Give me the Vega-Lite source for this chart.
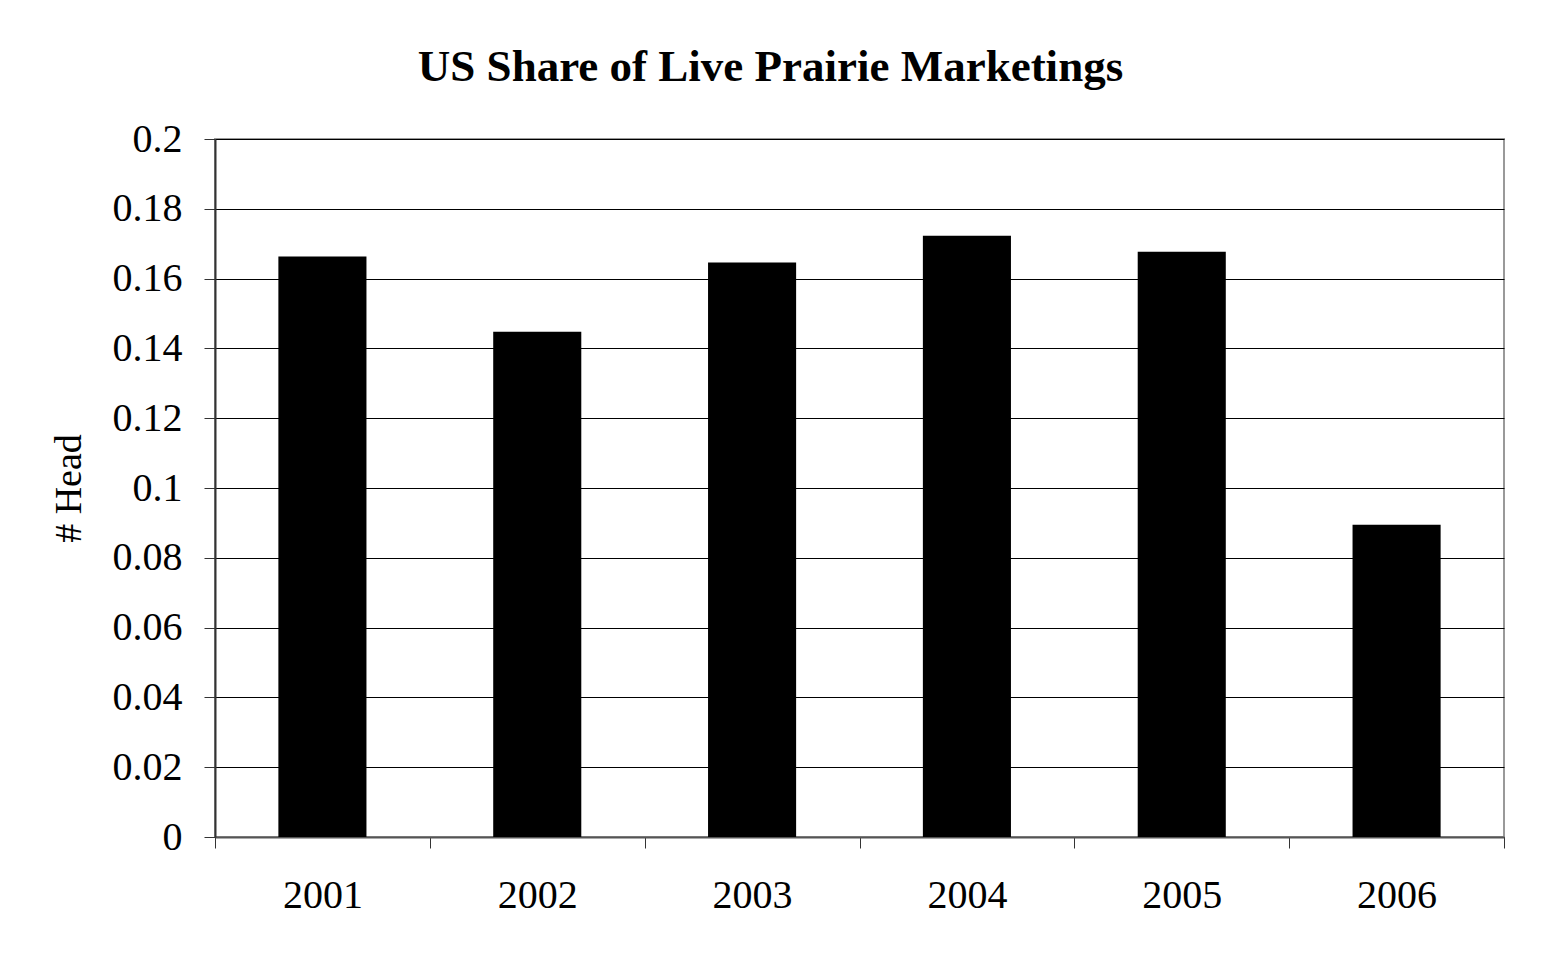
{
  "$schema": "https://vega.github.io/schema/vega-lite/v6.json",
  "width": 1289,
  "height": 698,
  "autosize": "none",
  "padding": {"left": 215, "top": 139, "right": 37, "bottom": 118},
  "background": "white",
  "title": {
    "text": "US Share of Live Prairie Marketings",
    "font": "Liberation Serif",
    "fontSize": 45,
    "fontWeight": "bold",
    "color": "black",
    "anchor": "middle",
    "dx": -89,
    "baseline": "alphabetic",
    "offset": -7
  },
  "data": {
    "values": [
      {"year": "2001", "share": 0.1663},
      {"year": "2002", "share": 0.1448},
      {"year": "2003", "share": 0.1646},
      {"year": "2004", "share": 0.1723},
      {"year": "2005", "share": 0.1677},
      {"year": "2006", "share": 0.0895}
    ]
  },
  "mark": {"type": "bar", "color": "black", "width": {"band": 0.41}},
  "encoding": {
    "x": {
      "field": "year",
      "type": "ordinal",
      "scale": {"paddingInner": 0, "paddingOuter": 0},
      "axis": {
        "title": null,
        "labelAngle": 0,
        "labelFont": "Liberation Serif",
        "labelFontSize": 40,
        "labelColor": "black",
        "labelPadding": 27,
        "tickBand": "extent",
        "tickSize": 11,
        "tickColor": "#333",
        "domainColor": "#555",
        "domainWidth": 2,
        "grid": false
      }
    },
    "y": {
      "field": "share",
      "type": "quantitative",
      "scale": {"domain": [0, 0.2], "nice": false},
      "axis": {
        "title": "# Head",
        "titleFont": "Liberation Serif",
        "titleFontSize": 38,
        "titleFontWeight": "normal",
        "titleColor": "black",
        "titlePadding": 24,
        "values": [0, 0.02, 0.04, 0.06, 0.08, 0.1, 0.12, 0.14, 0.16, 0.18, 0.2],
        "format": "~g",
        "labelFont": "Liberation Serif",
        "labelFontSize": 40,
        "labelColor": "black",
        "labelPadding": 22,
        "labelFlush": false,
        "labelOverlap": false,
        "tickSize": 11,
        "tickColor": "#333",
        "domainColor": "#333",
        "domainWidth": 2,
        "grid": true,
        "gridColor": "black",
        "gridWidth": 1,
        "gridOpacity": 1
      }
    }
  },
  "config": {
    "view": {"stroke": "#999", "strokeWidth": 2}
  }
}
